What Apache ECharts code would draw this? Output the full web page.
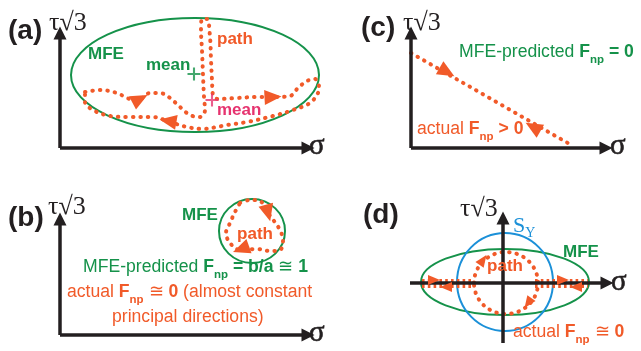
<!DOCTYPE html>
<html><head><meta charset="utf-8">
<script src="https://cdn.jsdelivr.net/npm/echarts@6/dist/echarts.min.js"></script>
<style>html,body{margin:0;padding:0;background:#fff}#c{width:641px;height:351px}</style>
</head><body><div id="c"></div>
<script>
// ---------- data (schematic coordinates in the chart's own value space) ----------
const axisSegments = [
  [[60,148],[60,33]], [[60,148],[308,148]],     // (a)
  [[411,148],[411,33]], [[411,148],[606,148]],  // (c)
  [[60,335],[60,219]], [[60,335],[308,335]],     // (b)
  [[503,343],[503,218]], [[410,283],[607,283]]   // (d)
];
const mfeEllipses = [[195,75,124,57],[252,231,33,32],[505,282,84,33]];
const yieldCircle = [[505,282,48,49]];
const pathCircleD = [[506,283,32,31]];
const pathA = [[85,92],[100,90],[117,93],[127,98],[137,101],[150,93],[160,93],[170,98],[180,107],[190,115],[200,117],[205,110],[204,97],[203,75],[202,50],[201,30],[202,19],[207,19],[210,37],[211,60],[212,80],[213,95],[218,99],[237,98],[257,97],[273,97],[290,96],[298,88],[307,81],[315,79],[319,87],[318,93],[310,103],[293,110],[273,116],[247,122],[227,125],[217,127],[203,129],[187,127],[170,122],[153,117],[127,117],[110,116],[93,110],[85,102],[85,92]];
const pathB = [[240,203],[250,200],[260,201],[268,213],[280,230],[283,242],[280,250],[270,251],[257,249],[240,250],[230,243],[226,233],[230,223],[235,212],[240,203]];
const pathC = [[411,53],[573,146]];
const ladderD = [[[422,283],[473,283]], [[535,283],[588,283]]];
// arrowheads: [x, y, direction in degrees (counter-clockwise from +sigma)]
const arrowsBig = [[140,99,28],[273,97,3],[168,121,170],[447,72,-30],[533,127,150],[268,213,-75],[241,249,200]];
const arrowsSmall = [[483,260,55],[528,303,-125],[434,280,0],[446,287,180],[563,280,0],[576,287,180]];
const meanMFE = [[194,74]];
const meanPath = [[212,100]];
// text labels: [x, y, text, style key, align]
const labels = [
  [8,31,'(a)','panel','left'], [49,23,'τ√3','tau','left'], [88,54,'MFE','gb','left'],
  [146,65,'mean','gb','left'], [217,39,'path','ob','left'], [217,110,'mean','pb','left'],
  [309,146,'σ','sig','left'],
  [361,28,'(c)','panel','left'], [403,23,'τ√3','tau','left'],
  [459,57,'{r|MFE-predicted }{b|F}{s|np}{b| = 0}','g','left'],
  [417,134,'{r|actual }{b|F}{s|np}{b| > 0}','o','left'], [610,146,'σ','sig','left'],
  [8,218,'(b)','panel','left'], [48,207,'τ√3','tau','left'], [182,215,'MFE','gb','left'],
  [255,234,'path','ob','center'],
  [83,272,'{r|MFE-predicted }{b|F}{s|np}{b| = b/a }{r|≅}{b| 1}','g','left'],
  [67,297,'{r|actual }{b|F}{s|np}{r| ≅ }{b|0}{r| (almost constant}','o','left'],
  [112,317,'principal directions)','or','left'], [309,333,'σ','sig','left'],
  [363,215,'(d)','panel','left'], [460,209,'τ√3','tau','left'],
  [513,229,'{S|S}{Y|Y}','blue','left'], [563,252,'MFE','gb','left'],
  [505,266,'path','ob','center'], [611,282,'σ','sig','left'],
  [513,337,'{r|actual }{b|F}{s|np}{r| ≅ }{b|0}','o','left']
];

// ---------- styles ----------
const GREEN = '#15924a', ORANGE = '#f15a29', PINK = '#e6336f', BLUE = '#1b90d8', BLACK = '#231f20';
const SANS = '"Liberation Sans", Arial, Helvetica, sans-serif';
const SERIF = '"Liberation Serif", "Times New Roman", serif';
const FS = 17.6;
function richFor(color){
  return {
    r:{fill:color,fontFamily:SANS,fontSize:FS,fontWeight:'normal',lineHeight:18,padding:[0,0,5,0],verticalAlign:'bottom'},
    b:{fill:color,fontFamily:SANS,fontSize:FS,fontWeight:'bold',lineHeight:18,padding:[0,0,5,0],verticalAlign:'bottom'},
    s:{fill:color,fontFamily:SANS,fontSize:11.5,fontWeight:'bold',lineHeight:11,verticalAlign:'bottom'},
    S:{fill:color,fontFamily:SERIF,fontSize:22,lineHeight:22,padding:[0,0,3,0],verticalAlign:'bottom'},
    Y:{fill:color,fontFamily:SERIF,fontSize:14,lineHeight:14,verticalAlign:'bottom'}
  };
}
const labelStyles = {
  panel:{fill:BLACK,fontFamily:SANS,fontSize:28,fontWeight:'bold'},
  tau:{fill:BLACK,fontFamily:SERIF,fontSize:26},
  sig:{fill:BLACK,fontFamily:SERIF,fontSize:29,stroke:BLACK,lineWidth:0.6},
  gb:{fill:GREEN,fontFamily:SANS,fontSize:17,fontWeight:'bold'},
  ob:{fill:ORANGE,fontFamily:SANS,fontSize:17,fontWeight:'bold'},
  pb:{fill:PINK,fontFamily:SANS,fontSize:17,fontWeight:'bold'},
  or:{fill:ORANGE,fontFamily:SANS,fontSize:FS},
  g:{fill:GREEN,fontFamily:SANS,fontSize:FS,rich:richFor(GREEN)},
  o:{fill:ORANGE,fontFamily:SANS,fontSize:FS,rich:richFor(ORANGE)},
  blue:{fill:BLUE,fontFamily:SERIF,fontSize:22,rich:richFor(BLUE)}
};

function ellipseSeries(list, stroke, width, dash, z){
  return {
    type:'custom', z:z, silent:true, data:list,
    renderItem:function(params, api){
      const c = api.coord([api.value(0), api.value(1)]);
      const s = api.size([api.value(2), api.value(3)]);
      return {type:'ellipse', shape:{cx:c[0], cy:c[1], rx:Math.abs(s[0]), ry:Math.abs(s[1])},
        style:{fill:'none', stroke:stroke, lineWidth:width, lineDash:dash||null, lineCap:'round'}};
    }
  };
}
const DOT = {color:ORANGE, width:4, type:[0.5,7], cap:'round'};
function dottedLine(points, z){
  return {type:'line', data:points, smooth:0.35, showSymbol:false, symbol:'none', z:z, silent:true,
    lineStyle:DOT};
}
const plusPath = 'path://M4.2,0H5.8V4.2H10V5.8H5.8V10H4.2V5.8H0V4.2H4.2Z';

const chart = echarts.init(document.getElementById('c'), null, {renderer:'canvas'});
chart.setOption({
  animation:false,
  backgroundColor:'#ffffff',
  grid:{left:0,right:0,top:0,bottom:0},
  xAxis:{type:'value', min:0, max:641, show:false},
  yAxis:{type:'value', min:0, max:351, inverse:true, show:false},
  series:[
    ellipseSeries(mfeEllipses, GREEN, 2, null, 2),
    ellipseSeries(yieldCircle, BLUE, 2, null, 2),
    ellipseSeries(pathCircleD, ORANGE, 4, [0.5,7], 3),
    dottedLine(pathA, 3), dottedLine(pathB, 3),
    {type:'line', data:pathC, showSymbol:false, symbol:'none', z:3, silent:true, lineStyle:DOT},
    {type:'lines', coordinateSystem:'cartesian2d', z:3, silent:true,
      data:ladderD.map(c=>({coords:c})),
      lineStyle:{color:ORANGE, width:9, type:[2.6,3.2], opacity:1}},
    {type:'lines', coordinateSystem:'cartesian2d', z:5, silent:true,
      symbol:['none','triangle'], symbolSize:[11,13],
      data:axisSegments.map(c=>({coords:c})),
      lineStyle:{color:BLACK, width:3.5, opacity:1}},
    {type:'scatter', z:6, silent:true, symbol:'triangle', symbolSize:[15,17],
      itemStyle:{color:ORANGE, opacity:1},
      data:arrowsBig.map(a=>({value:[a[0],a[1]], symbolRotate:a[2]-90}))},
    {type:'scatter', z:6, silent:true, symbol:'triangle', symbolSize:[10,12],
      itemStyle:{color:ORANGE, opacity:1},
      data:arrowsSmall.map(a=>({value:[a[0],a[1]], symbolRotate:a[2]-90}))},
    {type:'scatter', z:6, silent:true, symbol:plusPath, symbolSize:13,
      itemStyle:{color:GREEN}, data:meanMFE},
    {type:'scatter', z:6, silent:true, symbol:plusPath, symbolSize:13,
      itemStyle:{color:PINK}, data:meanPath},
    {type:'custom', z:7, silent:true, data:labels.map(l=>[l[0],l[1]]),
      renderItem:function(params, api){
        const L = labels[params.dataIndex];
        const p = api.coord([api.value(0), api.value(1)]);
        const st = Object.assign({text:L[2], align:L[4], verticalAlign:'middle'}, labelStyles[L[3]]);
        return {type:'text', x:p[0], y:p[1], style:st};
      }}
  ]
});
</script></body></html>
